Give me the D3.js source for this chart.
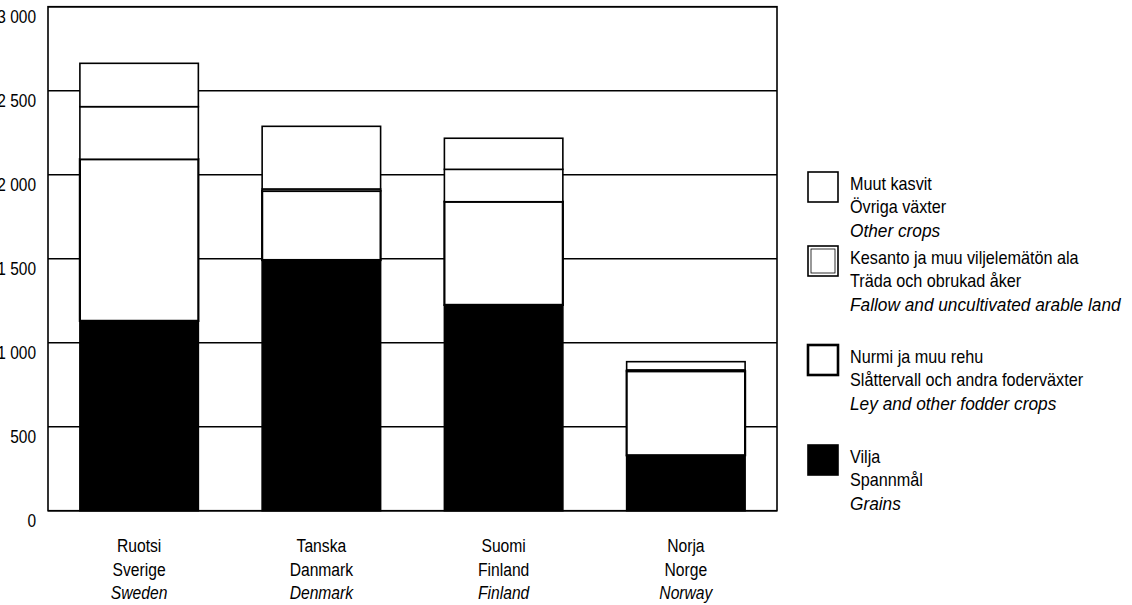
<!DOCTYPE html>
<html>
<head>
<meta charset="utf-8">
<script src="https://cdn.jsdelivr.net/npm/d3@7"></script>
<style>
  html, body { margin: 0; padding: 0; background: #fff; }
  svg { display: block; }
  text { font-family: "Liberation Sans Narrow", "Arial Narrow", "Liberation Sans", Arial, sans-serif; fill: #000; }
</style>
</head>
<body>
<svg id="chart" width="1132" height="605"></svg>
<script>
// ---- data (thousand hectares) ----
const categoriesFi = ["Ruotsi", "Tanska", "Suomi", "Norja"];
const categoriesSv = ["Sverige", "Danmark", "Finland", "Norge"];
const categoriesEn = ["Sweden", "Denmark", "Finland", "Norway"];
const grains = [1130, 1492, 1225, 330];
const ley    = [962, 411, 614, 500];
const fallow = [313, 12, 193, 8];
const other  = [258, 373, 185, 49];
const yTicks = [0, 500, 1000, 1500, 2000, 2500, 3000];
const yTickLabels = ["0", "500", "1 000", "1 500", "2 000", "2 500", "3 000"];
const seriesKeys = ["grains", "ley", "fallow", "other"];
const legendFi = ["Muut kasvit", "Kesanto ja muu viljelemätön ala", "Nurmi ja muu rehu", "Vilja"];
const legendSv = ["Övriga växter", "Träda och obrukad åker", "Slåttervall och andra foderväxter", "Spannmål"];
const legendEn = ["Other crops", "Fallow and uncultivated arable land", "Ley and other fodder crops", "Grains"];
const legendKeys = ["other", "fallow", "ley", "grains"];

const rows = categoriesEn.map((c, i) => ({
  cat: c, grains: grains[i], ley: ley[i], fallow: fallow[i], other: other[i]
}));

const svg = d3.select("#chart");
const plot = { left: 48, right: 777, top: 6.7, bottom: 510.7 };

const x = d3.scaleBand().domain(categoriesEn).range([plot.left, plot.right])
  .paddingInner(0.35).paddingOuter(0.175);
const y = d3.scaleLinear().domain([0, 3000]).range([plot.bottom, plot.top]);

// narrow text helper (emulates a condensed face)
function ntext(parent, tx, ty, str, opts) {
  opts = opts || {};
  const t = parent.append("text")
    .attr("transform", `translate(${tx},${ty}) scale(${opts.sx || 0.87},1)`)
    .attr("text-anchor", opts.anchor || "start")
    .style("font-size", (opts.size || 18) + "px")
    .text(str);
  if (opts.italic) t.style("font-style", "italic");
  return t;
}

// gridlines
svg.append("g").selectAll("line").data(yTicks).join("line")
  .attr("x1", plot.left).attr("x2", plot.right)
  .attr("y1", d => y(d)).attr("y2", d => y(d))
  .attr("stroke", "#000").attr("stroke-width", 1.6);

// frame
svg.append("rect")
  .attr("x", plot.left).attr("y", plot.top)
  .attr("width", plot.right - plot.left).attr("height", plot.bottom - plot.top)
  .attr("fill", "none").attr("stroke", "#000").attr("stroke-width", 1.6);

// stacked bars
const stack = d3.stack().keys(seriesKeys);
const layers = stack(rows);
const fillFor = { grains: "#000", ley: "#fff", fallow: "#fff", other: "#fff" };
const swFor = { grains: 1.6, ley: 2.2, fallow: 1.6, other: 1.6 };

const g = svg.append("g");
layers.forEach(layer => {
  g.append("g").selectAll("rect").data(layer).join("rect")
    .attr("x", d => x(d.data.cat))
    .attr("width", x.bandwidth())
    .attr("y", d => y(d[1]))
    .attr("height", d => y(d[0]) - y(d[1]))
    .attr("fill", fillFor[layer.key])
    .attr("stroke", "#000")
    .attr("stroke-width", swFor[layer.key]);
});

// y axis labels
const yl = svg.append("g");
yTicks.forEach((v, i) => {
  ntext(yl, 36, y(v) + 16.5, yTickLabels[i], { anchor: "end", size: 18, sx: 0.86 });
});

// x labels
const xl = svg.append("g");
categoriesEn.forEach((c, i) => {
  const cx = x(c) + x.bandwidth() / 2;
  ntext(xl, cx, 551.5, categoriesFi[i], { anchor: "middle" });
  ntext(xl, cx, 576, categoriesSv[i], { anchor: "middle" });
  ntext(xl, cx, 599, categoriesEn[i], { anchor: "middle", italic: true });
});

// legend
const legendTops = [172, 246, 345, 445];
const lg = svg.append("g");
legendKeys.forEach((k, i) => {
  const top = legendTops[i];
  lg.append("rect").attr("x", 808).attr("y", top).attr("width", 30).attr("height", 30)
    .attr("fill", fillFor[k]).attr("stroke", "#000").attr("stroke-width", k === "ley" ? 2.6 : 1.6);
  if (k === "fallow") {
    lg.append("rect").attr("x", 811).attr("y", top + 3).attr("width", 24).attr("height", 24)
      .attr("fill", "none").attr("stroke", "#000").attr("stroke-width", 0.8);
  }
  const ty = top + 17.5;
  ntext(lg, 850, ty, legendFi[i], { size: 18, sx: 0.9 });
  ntext(lg, 850, ty + 23.5, legendSv[i], { size: 18, sx: 0.9 });
  ntext(lg, 850, ty + 47, legendEn[i], { size: 18, sx: 0.96, italic: true });
});
</script>
</body>
</html>
